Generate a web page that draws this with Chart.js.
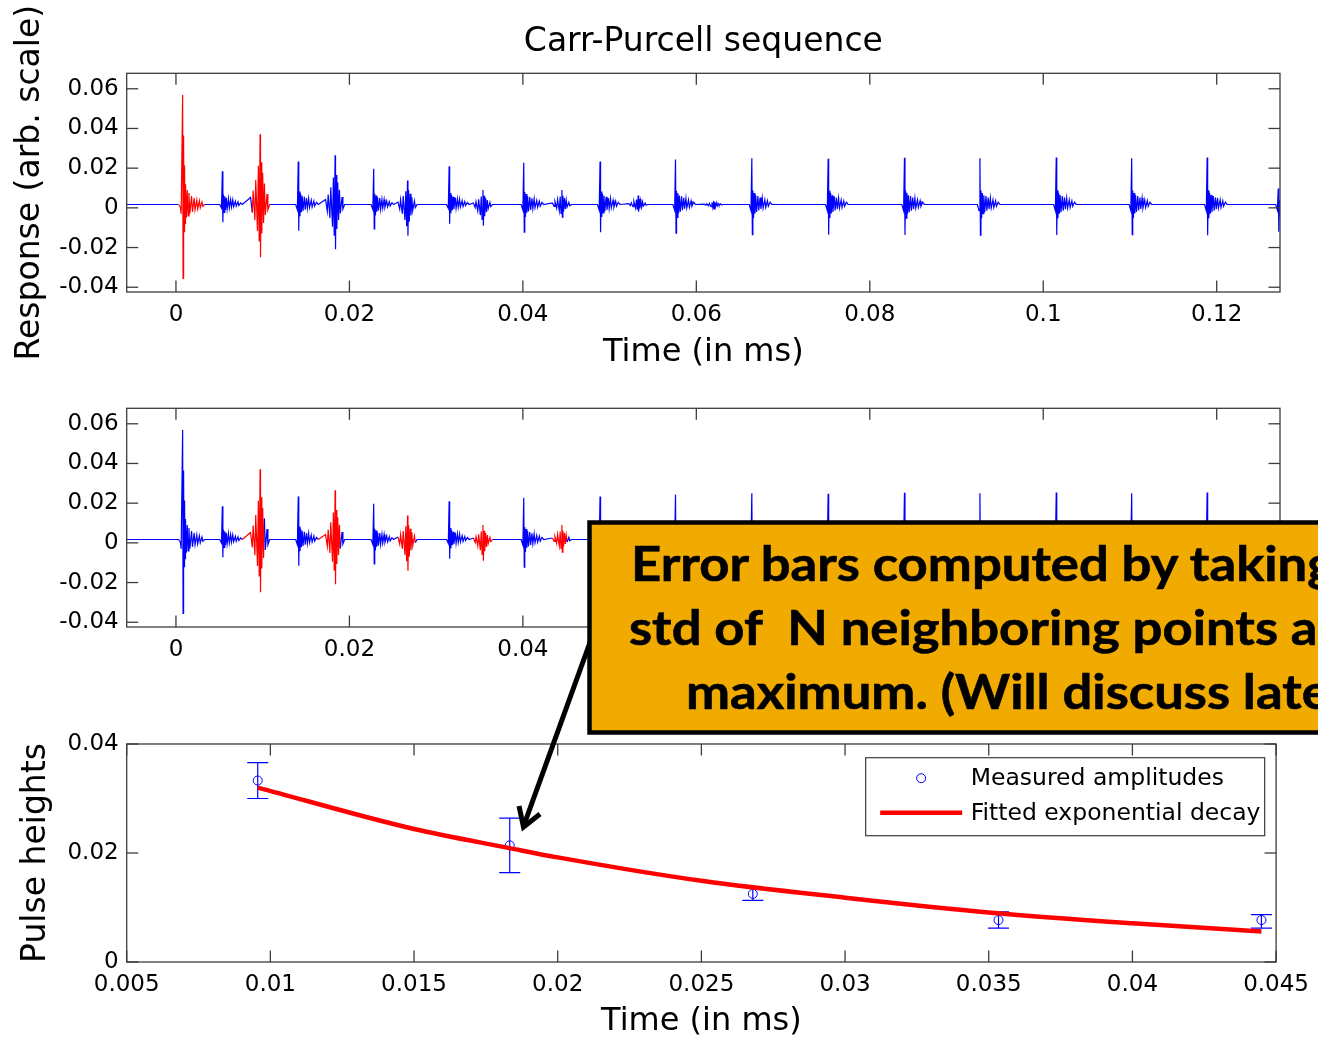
<!DOCTYPE html>
<html>
<head>
<meta charset="utf-8">
<title>Carr-Purcell sequence</title>
<script src="https://cdn.jsdelivr.net/npm/chart.js@4.4.1/dist/chart.umd.min.js"></script>
<style>
  html, body { margin: 0; padding: 0; background: #fff; }
  body { width: 1318px; height: 1041px; position: relative; overflow: hidden; }
  canvas { position: absolute; left: 0; }
  #note { position: absolute; left: 0; top: 0; }
  #note text { font-family: Lato; font-weight: 700; font-size: 47px; white-space: pre; }
</style>
</head>
<body>
<canvas id="topChart" width="1318" height="372" style="top:0px"></canvas>
<canvas id="midChart" width="1318" height="335" style="top:372px"></canvas>
<canvas id="pulseChart" width="1318" height="335" style="top:706px"></canvas>

<svg id="note" width="1318" height="1041">
  <line x1="601" y1="612" x2="524" y2="825" stroke="#000" stroke-width="5"/>
  <polyline points="519,806 523.5,827 540,814" fill="none" stroke="#000" stroke-width="5"/>
  <rect x="589.5" y="522.5" width="800" height="210" fill="#F0AA00" stroke="#000" stroke-width="4.5"/>
  <g fill="#000" stroke="#000" stroke-width="0.6">
    <text transform="matrix(1.12,0,0,1,631,581)">Error bars computed by taking</text>
    <text transform="matrix(1.12,0,0,1,629,645)">std of  N neighboring points about</text>
    <text transform="matrix(1.12,0,0,1,686,709)">maximum. (Will discuss later)</text>
  </g>
</svg>

<script>
// ---- signal (both upper panels), time in ms ----
const timeMin = -0.00568;
const timeMax = 0.1273;
const baseline = 0.0017;

// first (90 degree) pulse and its free decay, read point by point
const fidTimes = [0.0003, 0.0005, 0.0006, 0.00077, 0.00082, 0.00088, 0.00093, 0.00099, 0.00105, 0.0011, 0.0012, 0.0013, 0.0014, 0.0015, 0.0016, 0.0018, 0.0019, 0.0021, 0.0022, 0.0024, 0.0025, 0.0027, 0.0028, 0.003, 0.0031, 0.0033];
const fidValues = [0.0017, 0.0005, -0.003, 0.0569, -0.0355, 0.0365, -0.012, 0.0214, -0.008, 0.012, -0.005, 0.009, -0.004, 0.0075, -0.003, 0.006, -0.002, 0.005, -0.001, 0.004, -0.0005, 0.0035, 0.0, 0.003, 0.0008, 0.0017];

// refocusing pulses: time, highest and lowest excursion
const pulseTimes = [0.00535, 0.0141, 0.0228, 0.0315, 0.0401, 0.0489, 0.0576, 0.0664, 0.0752, 0.0840, 0.0927, 0.1015, 0.1102, 0.1189, 0.1271];
const pulseUp    = [0.0184, 0.0234, 0.0197, 0.0209, 0.0227, 0.0234, 0.0244, 0.0250, 0.0248, 0.0252, 0.0250, 0.0254, 0.0250, 0.0254, 0.0098];
const pulseDown  = [-0.0073, -0.0115, -0.0106, -0.0080, -0.0123, -0.0123, -0.0128, -0.0135, -0.0135, -0.0137, -0.0137, -0.0137, -0.0135, -0.0138, -0.0121];

// echoes between the pulses
const echoTimes = [0.0097, 0.01835, 0.0267, 0.0354, 0.0445, 0.0533, 0.0620];
const echoUp    = [0.0371, 0.0265, 0.0138, 0.0090, 0.0090, 0.0062, 0.0035];
const echoDown  = [-0.0249, -0.0208, -0.0140, -0.0090, -0.0047, -0.0020, -0.0005];

// ringing shape of a pulse / echo: offset (ms) and share of the up (+) or down (-) peak
const pulseShapeDt = [-0.0003, -0.0001, 0, 0.00006, 0.00012, 0.0002, 0.00028, 0.00036, 0.00045, 0.00055, 0.0007, 0.0008, 0.00095, 0.00105, 0.0012, 0.0013, 0.0015, 0.0016, 0.0018, 0.0019, 0.0021, 0.0023];
const pulseShapeF  = [0, -0.2, 1, -1, 0.3, -0.45, 0.25, -0.3, 0.2, -0.25, 0.18, -0.2, 0.15, -0.15, 0.14, -0.12, 0.1, -0.1, 0.08, -0.06, 0.05, 0];
const echoShapeDt = [-0.0011, -0.0009, -0.0008, -0.0006, -0.0005, -0.0003, -0.0002, -0.0001, 0, 0.00005, 0.00012, 0.0002, 0.0003, 0.0004, 0.0005, 0.0006, 0.0008, 0.0009, 0.0011];
const echoShapeF  = [0.1, -0.15, 0.2, -0.3, 0.35, -0.5, 0.55, -0.7, 1, -1, 0.6, -0.55, 0.45, -0.35, 0.3, -0.2, 0.15, -0.1, 0];

// parts of the trace shown in red
const topRedWindows = [[-0.0002, 0.0032], [0.0088, 0.0110]];
const midRedWindows = [[0.0080, 0.0102], [0.0166, 0.0190], [0.0255, 0.0277], [0.0342, 0.0366], [0.0431, 0.0452], [0.0520, 0.0543]];

const respTicks = [-0.04, -0.02, 0, 0.02, 0.04, 0.06];
const respTickLabels = ['-0.04', '-0.02', '0', '0.02', '0.04', '0.06'];
const timeTicks = [0, 0.02, 0.04, 0.06, 0.08, 0.1, 0.12];
const timeTickLabels = ['0', '0.02', '0.04', '0.06', '0.08', '0.1', '0.12'];

// ---- pulse heights (bottom panel) ----
const ampTimes = [0.00956, 0.01833, 0.02679, 0.03534, 0.04449];
const ampValues = [0.0333, 0.0214, 0.0125, 0.0077, 0.0077];
const ampLow = [0.0300, 0.0164, 0.0113, 0.0062, 0.0062];
const ampHigh = [0.0366, 0.0264, 0.0137, 0.0092, 0.0087];
const fitTimes = [0.00956, 0.015, 0.01833, 0.02, 0.025, 0.03, 0.035, 0.04, 0.04449];
const fitValues = [0.0320, 0.0244, 0.0209, 0.0192, 0.0149, 0.0118, 0.0091, 0.0071, 0.0056];

const heightTicks = [0, 0.02, 0.04];
const heightTickLabels = ['0', '0.02', '0.04'];
const pulseTimeTicks = [0.005, 0.01, 0.015, 0.02, 0.025, 0.03, 0.035, 0.04, 0.045];
const pulseTimeTickLabels = ['0.005', '0.01', '0.015', '0.02', '0.025', '0.03', '0.035', '0.04', '0.045'];

const FONT = 'DejaVu Sans';
const AXIS_COLOR = '#3c3c3c';
const TICK_LEN = 11.5;

function buildTrace() {
    const pts = [{x: timeMin, y: baseline}];
    fidTimes.forEach((t, i) => pts.push({x: t, y: fidValues[i]}));
    const addShape = (times, up, down, dts, fs) => {
        times.forEach((t, i) => {
            dts.forEach((d, j) => {
                const f = fs[j];
                const y = f >= 0 ? baseline + f * (up[i] - baseline) : baseline - f * (down[i] - baseline);
                pts.push({x: t + d, y: y});
            });
        });
    };
    addShape(pulseTimes, pulseUp, pulseDown, pulseShapeDt, pulseShapeF);
    addShape(echoTimes, echoUp, echoDown, echoShapeDt, echoShapeF);
    pts.push({x: timeMax, y: baseline});
    pts.sort((a, b) => a.x - b.x);
    return pts;
}

function inWindows(wins, x) {
    return wins.some(w => x >= w[0] && x <= w[1]);
}

// MATLAB style box with inward ticks on all four sides
const boxTicks = {
    id: 'boxTicks',
    afterDatasetsDraw(chart) {
        const {ctx, chartArea: a, scales} = chart;
        const line = (x1, y1, x2, y2) => { ctx.beginPath(); ctx.moveTo(x1, y1); ctx.lineTo(x2, y2); ctx.stroke(); };
        ctx.save();
        ctx.strokeStyle = AXIS_COLOR;
        ctx.lineWidth = 1.3;
        ctx.strokeRect(a.left, a.top, a.right - a.left, a.bottom - a.top);
        scales.x.ticks.forEach(t => {
            const px = scales.x.getPixelForValue(t.value);
            line(px, a.bottom, px, a.bottom - TICK_LEN);
            line(px, a.top, px, a.top + TICK_LEN);
        });
        scales.y.ticks.forEach(t => {
            const py = scales.y.getPixelForValue(t.value);
            line(a.left, py, a.left + TICK_LEN, py);
            line(a.right, py, a.right - TICK_LEN, py);
        });
        ctx.restore();
    }
};

function xAxis(min, max, ticks, labels, title, height) {
    return {
        type: 'linear', min: min, max: max,
        grid: {display: false, drawTicks: false}, border: {display: false},
        afterBuildTicks: s => { s.ticks = ticks.map(v => ({value: v})); },
        afterFit: s => { s.height = height; },
        ticks: {
            autoSkip: false, maxRotation: 0, padding: 9, color: '#000',
            font: {family: FONT, size: 23},
            callback: v => labels[ticks.indexOf(v)]
        },
        title: {display: !!title, text: title, color: '#000', padding: {top: 0, bottom: 0}, font: {family: FONT, size: 32}}
    };
}

function yAxis(min, max, ticks, labels, title, titlePad) {
    return {
        type: 'linear', min: min, max: max,
        grid: {display: false, drawTicks: false}, border: {display: false},
        afterBuildTicks: s => { s.ticks = ticks.map(v => ({value: v})); },
        afterFit: s => { s.width = 126.7; },
        ticks: {
            autoSkip: false, padding: 8, color: '#000',
            font: {family: FONT, size: 23},
            callback: v => labels[ticks.indexOf(v)]
        },
        title: {display: !!title, text: title, color: '#000', padding: {top: titlePad, bottom: 0}, font: {family: FONT, size: 33}}
    };
}

function traceChart(id, redWins, padTop, withTitle, yTitle) {
    new Chart(document.getElementById(id), {
        type: 'line',
        data: {
            datasets: [{
                label: 'Response',
                data: buildTrace(),
                borderColor: '#0000ff',
                borderWidth: 1.2,
                pointRadius: 0,
                tension: 0,
                segment: {
                    borderColor: c => inWindows(redWins, (c.p0.parsed.x + c.p1.parsed.x) / 2) ? '#ff0000' : undefined
                }
            }]
        },
        options: {
            responsive: false, animation: false, devicePixelRatio: 1,
            layout: {padding: {left: 0, right: 38, top: padTop, bottom: 0}},
            plugins: {
                legend: {display: false}, tooltip: {enabled: false},
                title: {
                    display: withTitle, text: 'Carr-Purcell sequence', fullSize: false, color: '#000',
                    font: {family: FONT, size: 33, weight: 'normal'},
                    padding: {top: 22.2, bottom: 11.5}
                }
            },
            scales: {
                x: xAxis(timeMin, timeMax, timeTicks, timeTickLabels, 'Time (in ms)', 80),
                y: yAxis(-0.0424, 0.0678, respTicks, respTickLabels, yTitle, 10.2)
            }
        },
        plugins: [boxTicks]
    });
}

traceChart('topChart', topRedWindows, 0, true, 'Response (arb. scale)');
traceChart('midChart', midRedWindows, 36.3, false, '');

// error bars under the markers
const errorBars = {
    id: 'errorBars',
    beforeDatasetsDraw(chart) {
        const {ctx, scales: {x, y}} = chart;
        ctx.save();
        ctx.strokeStyle = '#0000ff';
        ctx.lineWidth = 1.2;
        ampTimes.forEach((t, i) => {
            const px = x.getPixelForValue(t);
            const lo = y.getPixelForValue(ampLow[i]);
            const hi = y.getPixelForValue(ampHigh[i]);
            ctx.beginPath();
            ctx.moveTo(px, lo); ctx.lineTo(px, hi);
            ctx.moveTo(px - 10.5, lo); ctx.lineTo(px + 10.5, lo);
            ctx.moveTo(px - 10.5, hi); ctx.lineTo(px + 10.5, hi);
            ctx.stroke();
        });
        ctx.restore();
    }
};

// boxed legend in the upper right corner of the plot
const boxLegend = {
    id: 'boxLegend',
    afterDraw(chart) {
        const {ctx, chartArea: a} = chart;
        const w = 399, h = 78;
        const left = a.right - 11.4 - w, top = a.top + 13.7;
        const fit = chart.data.datasets[0], meas = chart.data.datasets[1];
        ctx.save();
        ctx.fillStyle = '#fff';
        ctx.fillRect(left, top, w, h);
        ctx.strokeStyle = '#3c3c3c';
        ctx.lineWidth = 1.2;
        ctx.strokeRect(left, top, w, h);
        ctx.strokeStyle = meas.borderColor;
        ctx.lineWidth = 1;
        ctx.beginPath();
        ctx.arc(left + 55.5, top + 20.5, 4.5, 0, Math.PI * 2);
        ctx.stroke();
        ctx.strokeStyle = fit.borderColor;
        ctx.lineWidth = fit.borderWidth;
        ctx.beginPath();
        ctx.moveTo(left + 14.5, top + 55); ctx.lineTo(left + 96.5, top + 55);
        ctx.stroke();
        ctx.fillStyle = '#000';
        ctx.font = '23.5px "' + FONT + '"';
        ctx.textBaseline = 'middle';
        ctx.fillText(meas.label, left + 105, top + 21);
        ctx.fillText(fit.label, left + 105, top + 56);
        ctx.restore();
    }
};

new Chart(document.getElementById('pulseChart'), {
    type: 'line',
    data: {
        datasets: [{
            label: 'Fitted exponential decay',
            data: fitTimes.map((t, i) => ({x: t, y: fitValues[i]})),
            borderColor: '#ff0000',
            borderWidth: 4.5,
            pointRadius: 0,
            cubicInterpolationMode: 'monotone'
        }, {
            label: 'Measured amplitudes',
            data: ampTimes.map((t, i) => ({x: t, y: ampValues[i]})),
            showLine: false,
            borderColor: '#0000ff',
            backgroundColor: 'rgba(0,0,0,0)',
            borderWidth: 1,
            pointRadius: 4.5,
            pointStyle: 'circle'
        }]
    },
    options: {
        responsive: false, animation: false, devicePixelRatio: 1,
        layout: {padding: {left: 0, right: 38, top: 38, bottom: 0}},
        plugins: {legend: {display: false}, tooltip: {enabled: false}},
        scales: {
            x: xAxis(0.005, 0.045, pulseTimeTicks, pulseTimeTickLabels, 'Time (in ms)', 79),
            y: yAxis(0, 0.04, heightTicks, heightTickLabels, 'Pulse heights', 16.2)
        }
    },
    plugins: [errorBars, boxTicks, boxLegend]
});
</script>
</body>
</html>
